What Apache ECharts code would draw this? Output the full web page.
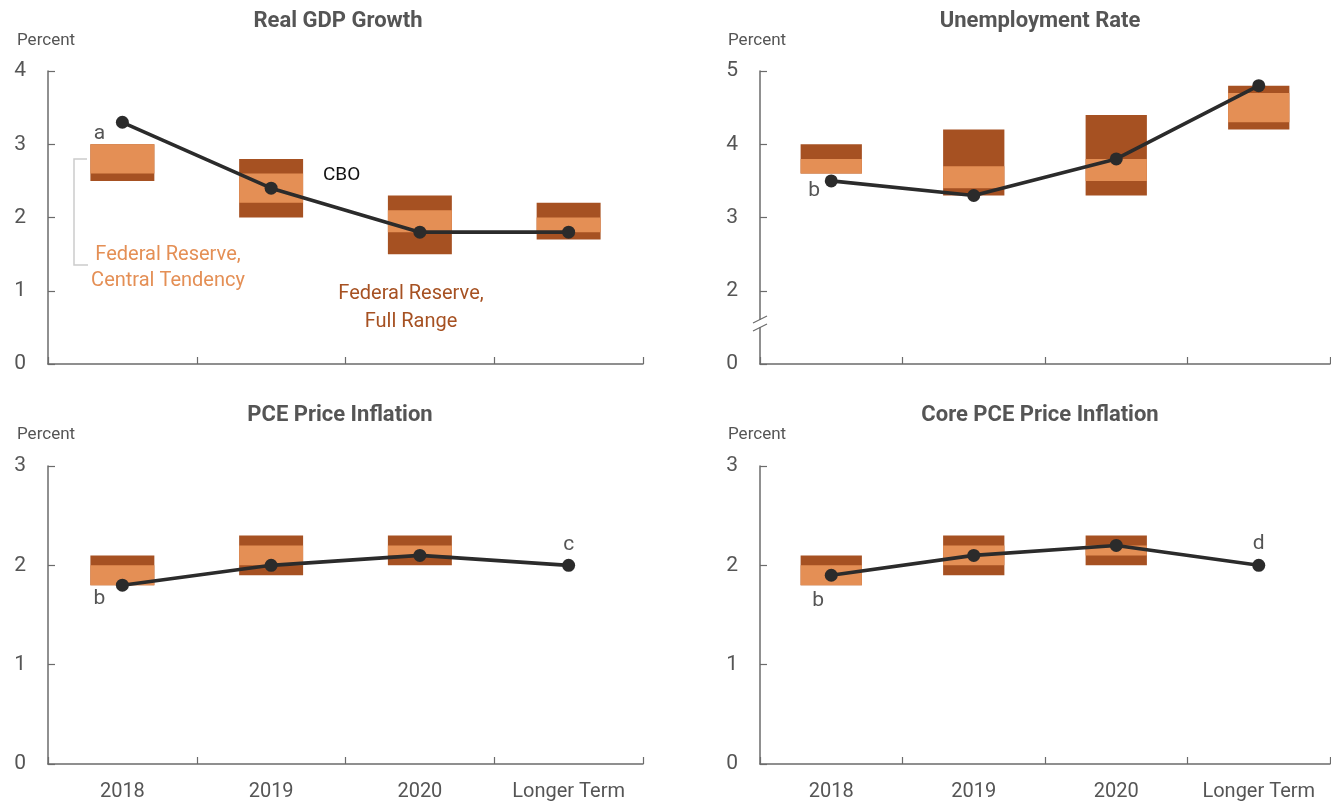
<!DOCTYPE html>
<html>
<head>
<meta charset="utf-8">
<script src="https://cdn.jsdelivr.net/npm/echarts@6/dist/echarts.min.js"></script>
<style>
  html, body { margin: 0; padding: 0; background: #fff; }
  #chart { width: 1331px; height: 807px; }
</style>
</head>
<body>
<div id="chart"></div>
<script>
// Categories shared by all four panels
const categories = ['2018', '2019', '2020', 'Longer Term'];

// Real GDP growth (percent)
const gdpRangeLow  = [2.5, 2.0, 1.5, 1.7];
const gdpRangeHigh = [3.0, 2.8, 2.3, 2.2];
const gdpCtLow     = [2.6, 2.2, 1.8, 1.8];
const gdpCtHigh    = [3.0, 2.6, 2.1, 2.0];
const gdpCbo       = [3.3, 2.4, 1.8, 1.8];

// Unemployment rate (percent)
const unRangeLow  = [3.6, 3.3, 3.3, 4.2];
const unRangeHigh = [4.0, 4.2, 4.4, 4.8];
const unCtLow     = [3.6, 3.4, 3.5, 4.3];
const unCtHigh    = [3.8, 3.7, 3.8, 4.7];
const unCbo       = [3.5, 3.3, 3.8, 4.8];

// PCE price inflation (percent); no longer-term range
const pceRangeLow  = [1.8, 1.9, 2.0, null];
const pceRangeHigh = [2.1, 2.3, 2.3, null];
const pceCtLow     = [1.8, 2.0, 2.1, null];
const pceCtHigh    = [2.0, 2.2, 2.2, null];
const pceCbo       = [1.8, 2.0, 2.1, 2.0];

// Core PCE price inflation (percent)
const corePceRangeLow  = [1.8, 1.9, 2.0, null];
const corePceRangeHigh = [2.1, 2.3, 2.3, null];
const corePceCtLow     = [1.8, 2.0, 2.1, null];
const corePceCtHigh    = [2.0, 2.2, 2.2, null];
const corePceCbo       = [1.9, 2.1, 2.2, 2.0];

// Note letters attached to CBO points: [index, letter, dx, dy]
const gdpNotes     = [[0, 'a', -23, 11]];
const unNotes      = [[0, 'b', -17, 10]];
const pceNotes     = [[0, 'b', -23, 14], [3, 'c', 0, -21]];
const corePceNotes = [[0, 'b', -13, 25], [3, 'd', 0, -22]];

const FONT = "Roboto, 'Noto Sans', sans-serif";
const GRAY = '#555555';
const AXIS = '#6b6b6b';
const LIGHT = '#E48F55';
const DARK = '#A65122';
const LINE = '#2b2b2b';

const grids = [
  { left: 48,  top: 71,  width: 595, height: 293 },
  { left: 760, top: 71,  width: 570, height: 293 },
  { left: 48,  top: 466, width: 595, height: 298 },
  { left: 760, top: 466, width: 570, height: 298 }
];

function xAxis(idx, showLabels) {
  return {
    type: 'category', gridIndex: idx, data: categories, boundaryGap: true,
    axisLine: { lineStyle: { color: AXIS, width: 1.5 } },
    axisTick: { show: true, inside: true, length: 7, interval: 0, lineStyle: { color: AXIS, width: 1.2 } },
    axisLabel: { show: showLabels, color: GRAY, fontSize: 20, fontFamily: FONT, margin: 18, interval: 0 },
    splitLine: { show: false }
  };
}

function yAxis(idx, min, max, fmt) {
  return {
    type: 'value', gridIndex: idx, min: min, max: max, interval: 1,
    axisLine: { show: true, lineStyle: { color: AXIS, width: 1.5 } },
    axisTick: { show: true, inside: true, length: 7, lineStyle: { color: AXIS, width: 1.2 } },
    axisLabel: { color: GRAY, fontSize: 21, fontFamily: FONT, margin: 22, formatter: fmt || '{value}' },
    splitLine: { show: false }
  };
}

function boxSeries(idx, rLow, rHigh, cLow, cHigh) {
  const data = categories.map((c, i) => [i, rLow[i], rHigh[i], cLow[i], cHigh[i]])
    .filter(d => d[1] != null);
  return {
    type: 'custom', xAxisIndex: idx, yAxisIndex: idx, z: 2,
    data: data,
    encode: { x: 0, y: [1, 2, 3, 4] },
    renderItem: function (params, api) {
      const i = api.value(0);
      const w = api.size([1, 0])[0] * 0.43;
      const pLow = api.coord([i, api.value(1)]);
      const pHigh = api.coord([i, api.value(2)]);
      const qLow = api.coord([i, api.value(3)]);
      const qHigh = api.coord([i, api.value(4)]);
      return {
        type: 'group',
        children: [
          { type: 'rect', shape: { x: pLow[0] - w / 2, y: pHigh[1], width: w, height: pLow[1] - pHigh[1] },
            style: { fill: DARK } },
          { type: 'rect', shape: { x: qLow[0] - w / 2, y: qHigh[1], width: w, height: qLow[1] - qHigh[1] },
            style: { fill: LIGHT } }
        ]
      };
    }
  };
}

function lineSeries(idx, values, notes) {
  const data = values.map(v => ({ value: v }));
  notes.forEach(([i, txt, dx, dy]) => {
    data[i].label = {
      show: true, formatter: txt, position: 'inside', offset: [dx, dy],
      color: GRAY, fontSize: 21, fontFamily: FONT
    };
  });
  return {
    type: 'line', xAxisIndex: idx, yAxisIndex: idx, z: 5,
    data: data,
    symbol: 'circle', symbolSize: 13,
    lineStyle: { color: LINE, width: 3.6 },
    itemStyle: { color: LINE },
    label: { show: false },
    emphasis: { disabled: true },
    animation: false
  };
}

function panelTitle(text, x, y) {
  return { text: text, left: x, top: y, textAlign: 'center',
    textStyle: { color: GRAY, fontSize: 22, fontWeight: 'bold', fontFamily: FONT } };
}
function unitTitle(x, y) {
  return { text: 'Percent', left: x, top: y,
    textStyle: { color: GRAY, fontSize: 17, fontWeight: 'normal', fontFamily: FONT } };
}

const option = {
  backgroundColor: '#ffffff',
  animation: false,
  title: [
    panelTitle('Real GDP Growth', 333, 5),
    panelTitle('Unemployment Rate', 1035, 5),
    panelTitle('PCE Price Inflation', 335, 399),
    panelTitle('Core PCE Price Inflation', 1035, 399),
    unitTitle(12, 27), unitTitle(723, 27), unitTitle(12, 421), unitTitle(723, 421)
  ],
  grid: grids,
  xAxis: [xAxis(0, false), xAxis(1, false), xAxis(2, true), xAxis(3, true)],
  yAxis: [
    yAxis(0, 0, 4),
    yAxis(1, 1, 5, v => (v === 1 ? '0' : String(v))),
    yAxis(2, 0, 3),
    yAxis(3, 0, 3)
  ],
  series: [
    boxSeries(0, gdpRangeLow, gdpRangeHigh, gdpCtLow, gdpCtHigh),
    boxSeries(1, unRangeLow, unRangeHigh, unCtLow, unCtHigh),
    boxSeries(2, pceRangeLow, pceRangeHigh, pceCtLow, pceCtHigh),
    boxSeries(3, corePceRangeLow, corePceRangeHigh, corePceCtLow, corePceCtHigh),
    lineSeries(0, gdpCbo, gdpNotes),
    lineSeries(1, unCbo, unNotes),
    lineSeries(2, pceCbo, pceNotes),
    lineSeries(3, corePceCbo, corePceNotes)
  ],
  graphic: [
    // Legend-style annotations in the GDP panel
    { type: 'text', left: 323, top: 166, z: 10,
      style: { text: 'CBO', fill: '#111111', font: '19px ' + FONT } },
    { type: 'text', x: 168, y: 268, z: 10,
      style: { text: 'Federal Reserve,\nCentral Tendency', fill: LIGHT, font: '20px ' + FONT,
        align: 'center', verticalAlign: 'middle', lineHeight: 26 } },
    { type: 'text', x: 411, y: 308, z: 10,
      style: { text: 'Federal Reserve,\nFull Range', fill: DARK, font: '20px ' + FONT,
        align: 'center', verticalAlign: 'middle', lineHeight: 28 } },
    { type: 'polyline', z: 10,
      shape: { points: [[87, 159], [74, 159], [74, 265], [88, 265]] },
      style: { stroke: '#cccccc', lineWidth: 1.5, fill: null } },
    // Axis break on the unemployment scale
    { type: 'rect', z: 20, shape: { x: 757, y: 320, width: 7, height: 7 }, style: { fill: '#ffffff' } },
    { type: 'line', z: 21, shape: { x1: 753, y1: 323, x2: 767, y2: 316 }, style: { stroke: AXIS, lineWidth: 1.2 } },
    { type: 'line', z: 21, shape: { x1: 753, y1: 331, x2: 767, y2: 324 }, style: { stroke: AXIS, lineWidth: 1.2 } }
  ]
};

const chart = echarts.init(document.getElementById('chart'), null, { renderer: 'canvas' });
chart.setOption(option);
</script>
</body>
</html>
